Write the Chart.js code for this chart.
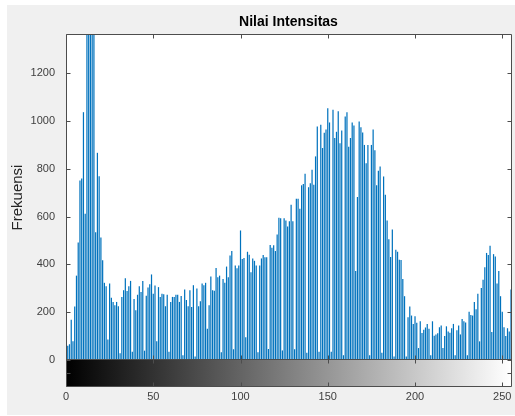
<!DOCTYPE html>
<html>
<head>
<meta charset="utf-8">
<script src="https://cdn.jsdelivr.net/npm/chart.js@4.4.1/dist/chart.umd.min.js"></script>
<style>
  html, body { margin: 0; padding: 0; background: #fff; }
  #wrap { width: 515px; height: 416px; }
</style>
</head>
<body>
<div id="wrap"><canvas id="hist" width="515" height="416"></canvas></div>
<script>
const chartTitle = 'Nilai Intensitas';
const yLabel = 'Frekuensi';
const xTickValues = [0, 50, 100, 150, 200, 250];
const yTickValues = [0, 200, 400, 600, 800, 1000, 1200];
const yMax = 1360;

// pixel counts per grey level (levels 12-16 run past the top)
const counts0to63 = [
    84, 60, 66, 168, 78, 224, 353, 492, 751, 760, 1037, 612, 1900, 2400, 2200, 1800,
    1500, 535, 867, 769, 513, 417, 323, 309, 86, 320, 260, 243, 229, 243, 225, 28,
    264, 292, 342, 289, 309, 331, 35, 255, 208, 273, 309, 285, 331, 39, 269, 303,
    317, 358, 277, 312, 78, 305, 264, 277, 275, 225, 273, 35, 243, 264, 264, 273
];
const counts64to127 = [
    273, 243, 268, 20, 295, 251, 225, 292, 222, 313, 15, 299, 225, 246, 320, 313,
    323, 131, 229, 349, 292, 290, 385, 346, 353, 32, 339, 323, 391, 346, 437, 456,
    45, 395, 384, 395, 542, 423, 427, 95, 453, 440, 367, 425, 415, 395, 32, 395,
    425, 439, 430, 430, 46, 481, 470, 480, 456, 525, 595, 593, 40, 593, 584, 559
];
const counts128to191 = [
    581, 650, 581, 45, 675, 675, 633, 731, 737, 779, 30, 723, 740, 796, 733, 852,
    977, 35, 984, 887, 951, 965, 1054, 994, 35, 1047, 929, 955, 1041, 907, 960, 20,
    1019, 1037, 892, 929, 994, 981, 372, 682, 998, 974, 952, 900, 823, 900, 20, 900,
    965, 878, 731, 792, 810, 30, 768, 692, 584, 505, 431, 546, 15, 461, 453, 419
];
const counts192to255 = [
    418, 339, 267, 15, 179, 224, 186, 151, 183, 156, 50, 162, 113, 127, 136, 151,
    131, 20, 162, 101, 107, 112, 137, 144, 50, 100, 141, 119, 114, 133, 151, 20,
    124, 144, 107, 172, 162, 157, 20, 202, 188, 186, 243, 212, 277, 78, 301, 336,
    388, 448, 439, 478, 117, 443, 433, 320, 372, 267, 202, 137, 100, 133, 119, 295
];

const levels = Array.from({length: 256}, (_, i) => String(i));
const counts = counts0to63.concat(counts64to127, counts128to191, counts192to255);

const axisColor = '#4d4d4d';
const fontFamily = '"Liberation Sans", Arial, Helvetica, sans-serif';

// MATLAB style figure: grey background, boxed axes with inward ticks, grey colour bar
const matlabFrame = {
    id: 'matlabFrame',
    beforeDraw(chart) {
        const {ctx, chartArea: a} = chart;
        ctx.save();
        ctx.fillStyle = '#ffffff';
        ctx.fillRect(0, 0, chart.width, chart.height);
        ctx.fillStyle = '#f0f0f0';
        ctx.fillRect(7, 5, chart.width - 7, 410);
        ctx.fillStyle = '#ffffff';
        ctx.fillRect(a.left, a.top, a.right - a.left, a.bottom - a.top);
        ctx.restore();
    },
    afterDraw(chart) {
        const {ctx, chartArea: a, scales} = chart;
        const x = scales.x, y = scales.y;
        const cbTop = a.bottom;
        const cbBottom = a.bottom + 26;
        ctx.save();

        const g0 = x.getPixelForValue(0);
        const g1 = x.getPixelForValue(255);
        const grad = ctx.createLinearGradient(g0, 0, g1, 0);
        grad.addColorStop(0, '#000000');
        grad.addColorStop(1, '#ffffff');
        ctx.fillStyle = grad;
        ctx.fillRect(a.left, cbTop, a.right - a.left, cbBottom - cbTop);

        const L = Math.floor(a.left) + 0.5;
        const R = Math.floor(a.right) + 0.5;
        const T = Math.floor(a.top) - 0.5;
        const M = Math.floor(cbTop) - 0.5;
        const B = Math.floor(cbBottom) + 0.5;
        ctx.strokeStyle = axisColor;
        ctx.lineWidth = 1;
        ctx.beginPath();
        ctx.rect(L, T, R - L, B - T);
        ctx.moveTo(L, M);
        ctx.lineTo(R, M);

        const tl = 4;
        xTickValues.forEach(v => {
            const px = Math.round(x.getPixelForValue(v)) + 0.5;
            ctx.moveTo(px, T); ctx.lineTo(px, T + tl);
            ctx.moveTo(px, M); ctx.lineTo(px, M - tl);
            ctx.moveTo(px, M); ctx.lineTo(px, M + tl);
            ctx.moveTo(px, B); ctx.lineTo(px, B - tl);
        });
        yTickValues.forEach(v => {
            const py = Math.round(y.getPixelForValue(v)) + 0.5;
            ctx.moveTo(L, py); ctx.lineTo(L + tl, py);
            ctx.moveTo(R, py); ctx.lineTo(R - tl, py);
        });
        const cbMid = Math.round((cbTop + cbBottom) / 2) + 0.5;
        ctx.moveTo(L, cbMid); ctx.lineTo(L + tl, cbMid);
        ctx.moveTo(R, cbMid); ctx.lineTo(R - tl, cbMid);
        ctx.stroke();

        ctx.fillStyle = '#000000';
        ctx.font = 'bold 14px ' + fontFamily;
        ctx.textAlign = 'center';
        ctx.textBaseline = 'middle';
        ctx.fillText(chartTitle, (a.left + a.right) / 2, 22);
        ctx.restore();
    }
};

new Chart(document.getElementById('hist'), {
    type: 'bar',
    data: {
        labels: levels,
        datasets: [{
            label: yLabel,
            data: counts,
            backgroundColor: '#0072BD',
            borderWidth: 0,
            barPercentage: 0.7,
            categoryPercentage: 1.0
        }]
    },
    options: {
        responsive: false,
        devicePixelRatio: 1,
        animation: false,
        layout: {
            padding: {top: 35, right: 4, left: 0, bottom: 0}
        },
        plugins: {
            legend: {display: false},
            tooltip: {enabled: false}
        },
        scales: {
            x: {
                type: 'category',
                offset: false,
                // invisible tick marks only to push the labels below the colour bar
                grid: {
                    display: true,
                    drawOnChartArea: false,
                    drawTicks: true,
                    tickLength: 30,
                    color: 'rgba(0,0,0,0)'
                },
                border: {display: false},
                afterBuildTicks: (scale) => {
                    scale.ticks = xTickValues.map(v => ({value: v}));
                },
                afterFit: (scale) => { scale.height = 56; },
                ticks: {
                    autoSkip: false,
                    maxRotation: 0,
                    minRotation: 0,
                    padding: 0,
                    color: '#404040',
                    font: {family: fontFamily, size: 11}
                }
            },
            y: {
                min: 0,
                max: yMax,
                grid: {display: false, drawTicks: false},
                border: {display: false},
                afterBuildTicks: (scale) => {
                    scale.ticks = yTickValues.map(v => ({value: v}));
                },
                afterFit: (scale) => { scale.width = 66; },
                ticks: {
                    padding: 11,
                    color: '#404040',
                    font: {family: fontFamily, size: 11},
                    callback: (value) => String(value)
                },
                title: {
                    display: true,
                    text: yLabel,
                    color: '#262626',
                    padding: {top: 9, bottom: 0},
                    font: {family: fontFamily, size: 15}
                }
            }
        }
    },
    plugins: [matlabFrame]
});
</script>
</body>
</html>
